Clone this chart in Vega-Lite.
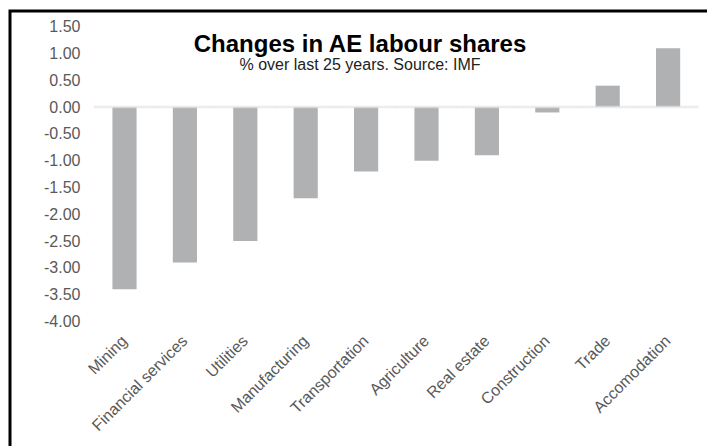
{
  "$schema": "https://vega.github.io/schema/vega-lite/v6.json",
  "width": 700,
  "height": 441,
  "padding": {"left": 10, "top": 11, "right": 0, "bottom": 0},
  "background": "white",
  "title": {
    "text": "Changes in AE labour shares",
    "subtitle": "% over last 25 years. Source: IMF",
    "anchor": "middle",
    "frame": "group",
    "offset": -62,
    "font": "Liberation Sans",
    "fontSize": 24,
    "fontWeight": "bold",
    "color": "#000000",
    "subtitleFont": "Liberation Sans",
    "subtitleFontSize": 16,
    "subtitleColor": "#222222",
    "subtitlePadding": 0
  },
  "data": {
    "values": [
      {"sector": "Mining", "change": -3.4},
      {"sector": "Financial services", "change": -2.9},
      {"sector": "Utilities", "change": -2.5},
      {"sector": "Manufacturing", "change": -1.7},
      {"sector": "Transportation", "change": -1.2},
      {"sector": "Agriculture", "change": -1.0},
      {"sector": "Real estate", "change": -0.9},
      {"sector": "Construction", "change": -0.1},
      {"sector": "Trade", "change": 0.4},
      {"sector": "Accomodation", "change": 1.1}
    ]
  },
  "layer": [
    {
      "mark": {"type": "bar", "color": "#b0b1b3"},
      "encoding": {
        "x": {
          "field": "sector",
          "type": "nominal",
          "sort": null,
          "scale": {"range": [84.3, 688.3], "paddingInner": 0.6, "paddingOuter": 0.3},
          "axis": {
            "title": null,
            "labelAngle": -45,
            "labelFont": "Liberation Sans",
            "labelFontSize": 16,
            "labelColor": "#595959",
            "ticks": false,
            "domain": false,
            "grid": false,
            "offset": -114,
            "labelPadding": 0,
            "labelAlign": "right",
            "labelBaseline": "middle"
          }
        },
        "y": {
          "field": "change",
          "type": "quantitative",
          "scale": {"domain": [-6.435, 1.793], "nice": false, "zero": false},
          "axis": {
            "title": null,
            "values": [-4, -3.5, -3, -2.5, -2, -1.5, -1, -0.5, 0, 0.5, 1, 1.5],
            "labelExpr": "replace(format(datum.value, '.2f'), '\u2212', '-')",
            "grid": false,
            "ticks": false,
            "domain": false,
            "offset": -70,
            "labelPadding": 0,
            "labelFont": "Liberation Sans",
            "labelFontSize": 16,
            "labelColor": "#595959"
          }
        }
      }
    },
    {
      "mark": {"type": "tick", "color": "#e4e4e4", "thickness": 2.5, "size": 61},
      "encoding": {
        "x": {"field": "sector", "type": "nominal", "sort": null},
        "y": {"datum": 0}
      }
    }
  ],
  "config": {"view": {"stroke": "#000000", "strokeWidth": 3}}
}
